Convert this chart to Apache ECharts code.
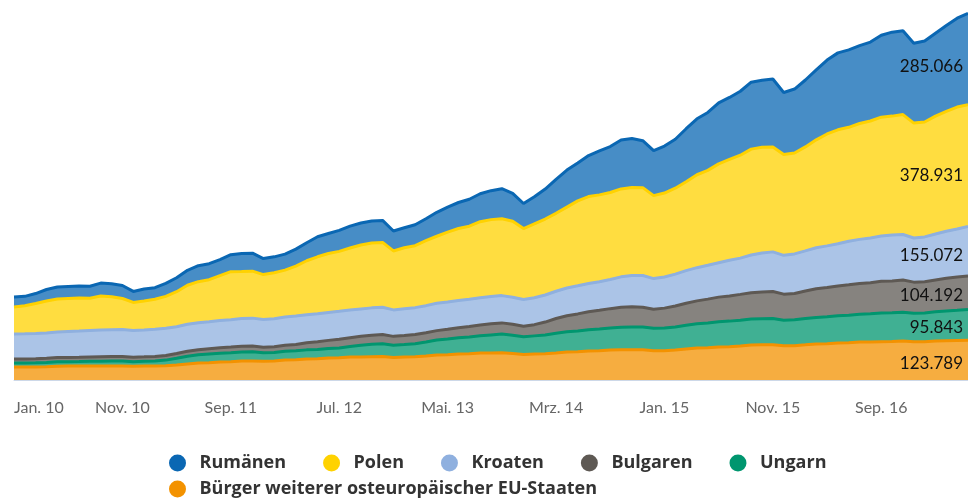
<!DOCTYPE html>
<html lang="de">
    <head>
        <title>Osteuropäische EU-Bürger</title>
        <meta charset="utf-8">
        <script src='https://cdn.jsdelivr.net/npm/echarts@6/dist/echarts.min.js'></script>
    </head>

    <style>
        html, body {
            margin: 0;
            background: #fff;
        }

        #main {
            width: 968px;
            height: 498px;
        }
    </style>

    <body>
        <div id='main'></div>

        <script>
            // Werte in Tausend, Jan. 2010 bis Mai 2017
            const monthNames = ['Jan.', 'Feb.', 'Mrz.', 'Apr.', 'Mai.', 'Jun.', 'Jul.', 'Aug.', 'Sep.', 'Okt.', 'Nov.', 'Dez.'];
            const pointCount = 89;

            const buerger = [40.5, 40.6, 40.8, 41.0, 43.0, 43.3, 43.5, 43.6, 43.8, 43.9, 44.0, 43.2, 43.8, 44.0, 44.5, 46.7, 49.8, 52.9, 54.0, 56.1,
                57.0, 59.2, 59.5, 58.5, 59.2, 62.3, 63.0, 65.4, 66.0, 68.5, 69.0, 71.6, 72.0, 72.5, 73.0, 70.0, 71.6, 72.5, 74.7, 77.9,
                78.5, 81.0, 81.5, 84.1, 84.5, 85.0, 82.5, 79.5, 81.0, 82.0, 84.1, 87.2, 88.0, 90.3, 91.0, 93.4, 94.0, 94.5, 94.0, 91.0,
                91.5, 93.4, 96.5, 99.6, 100.5, 102.8, 103.5, 105.9, 109.0, 109.5, 109.8, 106.5, 107.0, 109.5, 112.1, 113.0, 115.2, 116.0, 118.3, 118.8,
                119.5, 119.8, 121.4, 119.0, 119.5, 121.4, 122.5, 123.2, 123.789];

            const ungarn = [12.5, 12.6, 12.8, 13.5, 13.6, 13.8, 14.0, 14.5, 14.8, 15.0, 15.2, 14.0, 14.3, 15.0, 17.5, 21.0, 24.5, 25.5, 27.0, 27.5,
                28.0, 28.2, 28.3, 26.5, 26.8, 27.5, 28.0, 28.5, 29.0, 29.5, 31.0, 32.5, 36.0, 39.0, 40.0, 38.5, 39.0, 40.5, 43.5, 46.5,
                49.0, 50.5, 52.5, 53.5, 56.0, 58.0, 57.0, 55.0, 56.5, 58.5, 61.5, 63.0, 65.0, 66.5, 68.0, 69.0, 70.5, 71.0, 71.0, 70.0,
                70.5, 72.0, 74.0, 75.5, 77.0, 78.5, 80.0, 80.5, 81.0, 81.5, 82.0, 80.0, 80.5, 82.0, 83.0, 84.0, 85.0, 86.0, 86.5, 87.5,
                89.0, 89.5, 90.0, 89.0, 89.5, 91.0, 92.5, 94.0, 95.843];

            const bulgaren = [12.5, 12.6, 12.8, 13.0, 13.2, 13.4, 13.6, 13.8, 14.0, 14.1, 14.2, 13.8, 14.0, 14.3, 14.6, 15.0, 15.5, 15.8, 16.3, 16.8,
                17.5, 17.8, 18.0, 17.0, 17.8, 18.8, 19.8, 22.0, 24.0, 25.5, 27.0, 27.5, 28.0, 28.3, 28.5, 27.5, 28.0, 28.5, 29.0, 29.5,
                30.5, 31.5, 33.0, 34.0, 34.5, 35.0, 34.0, 33.0, 35.0, 40.0, 46.0, 50.0, 53.0, 56.0, 58.5, 60.0, 62.0, 62.5, 62.0, 59.5,
                62.0, 65.0, 68.5, 71.5, 74.5, 77.0, 78.5, 80.5, 82.0, 83.5, 84.0, 81.0, 82.0, 86.0, 89.5, 91.0, 93.0, 94.5, 96.0, 97.0,
                99.0, 99.5, 100.0, 97.0, 97.5, 99.5, 102.0, 103.5, 104.192];

            const kroaten = [78.0, 78.2, 78.5, 79.0, 80.0, 81.0, 81.5, 82.5, 83.0, 83.5, 84.0, 83.5, 84.0, 85.0, 84.5, 83.5, 84.0, 84.5, 84.5, 85.0,
                85.5, 86.5, 87.0, 86.5, 87.0, 87.5, 88.5, 87.5, 87.5, 87.0, 87.0, 86.5, 85.5, 85.0, 85.0, 82.5, 83.5, 84.0, 84.5, 85.5,
                85.0, 85.0, 85.0, 85.0, 85.0, 85.0, 84.5, 83.5, 84.0, 84.5, 85.0, 86.5, 87.5, 88.0, 88.5, 91.0, 95.0, 98.0, 98.5, 95.5,
                97.0, 99.5, 102.0, 103.5, 105.5, 107.0, 111.0, 113.0, 117.5, 121.0, 123.5, 121.0, 123.5, 125.0, 127.5, 130.0, 131.5, 136.0, 137.5, 139.5,
                141.0, 143.0, 142.0, 137.5, 139.5, 143.0, 146.5, 150.0, 155.072];

            const polen = [84.1, 87.2, 93.4, 99.6, 102.8, 102.8, 102.8, 100.5, 105.9, 102.8, 96.5, 87.2, 90.3, 93.4, 99.6, 109.0, 121.4, 127.7, 130.8, 140.1,
                149.5, 146.4, 146.4, 140.1, 143.2, 146.4, 155.7, 168.2, 177.5, 183.7, 186.8, 193.1, 199.3, 202.4, 202.4, 183.7, 190.0, 193.1, 202.4, 208.6,
                218.0, 224.2, 227.3, 236.7, 239.8, 239.8, 236.7, 221.1, 230.4, 236.7, 242.9, 252.2, 264.7, 270.9, 270.9, 270.9, 274.0, 274.0, 274.0, 258.5,
                261.6, 267.8, 277.1, 289.6, 295.8, 308.3, 314.5, 320.7, 330.1, 330.1, 327.0, 314.5, 314.5, 323.9, 336.3, 348.8, 355.0, 355.0, 361.2, 364.3,
                370.6, 370.6, 373.7, 358.1, 358.1, 367.5, 373.7, 379.9, 378.931];

            const rumaenen = [31.1, 29.5, 31.1, 36.0, 37.4, 37.4, 37.4, 37.4, 40.5, 40.5, 40.5, 34.3, 37.4, 36.0, 40.5, 43.6, 46.7, 49.8, 49.8, 49.8,
                52.9, 56.1, 56.1, 49.8, 49.8, 49.8, 52.9, 56.1, 62.3, 62.3, 65.4, 68.5, 68.5, 68.5, 68.5, 62.3, 62.3, 65.4, 68.5, 74.7,
                77.9, 81.0, 84.1, 87.2, 90.3, 93.4, 87.2, 77.9, 84.1, 93.4, 105.9, 115.2, 118.3, 127.7, 137.0, 143.2, 152.6, 152.6, 146.4, 140.1,
                146.4, 152.6, 165.0, 174.4, 180.6, 190.0, 193.1, 199.3, 208.6, 208.6, 211.8, 193.1, 199.3, 208.6, 218.0, 230.4, 239.8, 241.5, 242.5, 246.0,
                255.3, 261.6, 261.6, 249.1, 252.2, 258.5, 267.8, 277.1, 285.066];

            const categories = [];
            for (let i = 0; i < pointCount; i++) {
                categories.push(monthNames[i % 12] + ' ' + (10 + Math.floor(i / 12)));
            }

            // Stapelreihenfolge von unten nach oben
            const stackSeries = [
                { name: 'Bürger weiterer osteuropäischer EU-Staaten', color: '#f39200', data: buerger },
                { name: 'Ungarn', color: '#00966f', data: ungarn },
                { name: 'Bulgaren', color: '#5e5954', data: bulgaren },
                { name: 'Kroaten', color: '#8fb0df', data: kroaten },
                { name: 'Polen', color: '#ffd200', data: polen },
                { name: 'Rumänen', color: '#0a67b3', data: rumaenen }
            ];

            const last = pointCount - 1;
            let base = 0;
            const series = stackSeries.map(function (s, i) {
                const v = s.data[last];
                const mid = base + v * 0.42;
                base += v;
                return {
                    name: s.name,
                    type: 'line',
                    stack: 'total',
                    z: 10 - i,
                    color: s.color,
                    showSymbol: false,
                    lineStyle: { width: 3, color: s.color },
                    areaStyle: { color: s.color, opacity: 0.75 },
                    data: s.data,
                    markPoint: {
                        z: 30,
                        symbol: 'circle',
                        symbolSize: 0,
                        silent: true,
                        label: {
                            show: true,
                            position: 'inside',
                            align: 'right',
                            offset: [-5, 0],
                            color: '#111',
                            fontSize: 17,
                            fontFamily: 'Lato',
                            formatter: function () { return v.toFixed(3); }
                        },
                        data: [{ coord: [last, mid] }]
                    }
                };
            });

            const legendText = { color: '#333', fontSize: 18, fontWeight: 'bold', fontFamily: 'Open Sans' };

            const chart = echarts.init(document.getElementById('main'));

            const option = {
                animation: false,
                grid: { left: 14, top: 11, width: 959, bottom: 118 },
                legend: [
                    {
                        data: ['Rumänen', 'Polen', 'Kroaten', 'Bulgaren', 'Ungarn'],
                        left: 164,
                        top: 449,
                        icon: 'circle',
                        itemWidth: 34,
                        itemHeight: 17,
                        itemGap: 37,
                        textStyle: legendText
                    },
                    {
                        data: ['Bürger weiterer osteuropäischer EU-Staaten'],
                        left: 164,
                        top: 475,
                        icon: 'circle',
                        itemWidth: 34,
                        itemHeight: 17,
                        textStyle: legendText
                    }
                ],
                xAxis: {
                    type: 'category',
                    boundaryGap: false,
                    data: categories,
                    axisLine: { lineStyle: { color: '#cdd8e8', width: 1 } },
                    axisTick: { show: false },
                    axisLabel: {
                        interval: 9,
                        margin: 20,
                        color: '#666',
                        fontSize: 16,
                        fontFamily: 'Lato',
                        alignMinLabel: 'left'
                    }
                },
                yAxis: {
                    type: 'value',
                    min: 0,
                    max: 1150,
                    show: false,
                    splitLine: { show: false }
                },
                series: series
            };

            chart.setOption(option);

            window.onresize = function () {
                chart.resize();
            }
        </script>
    </body>
</html>
